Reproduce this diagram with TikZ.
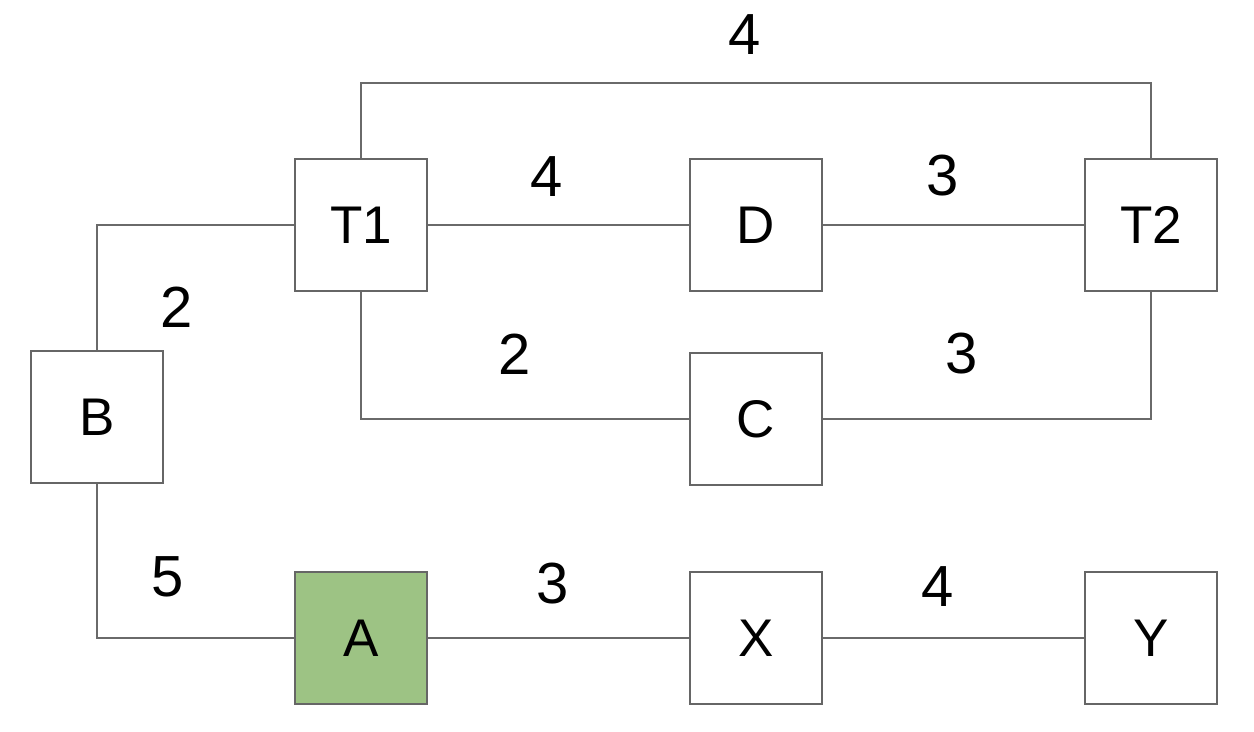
\documentclass[tikz,border=0pt]{standalone}
\usepackage{fontspec}
\setmainfont{Liberation Sans}
\definecolor{boxgray}{HTML}{666666}
\definecolor{linegray}{HTML}{6A6A6A}
\definecolor{agreen}{HTML}{9DC384}
\begin{document}
\begin{tikzpicture}[x=0.5pt,y=-0.5pt,
  box/.style={draw=boxgray,line width=1.35pt,fill=white,minimum width=66pt,minimum height=66pt,inner sep=0pt,font=\fontsize{26.5}{30}\selectfont},
  wire/.style={draw=linegray,line width=1.1pt},
  lab/.style={font=\fontsize{29}{33}\selectfont,inner sep=0pt}]
\useasboundingbox (0,0) rectangle (1254,732);
\coordinate (tp) at (745,83);
\node[box] (T1) at (361,225) {T1};
\node[box] (D) at (756,225) {D};
\node[box] (T2) at (1151,225) {T2};
\node[box] (B) at (97,417) {B};
\node[box] (C) at (756,419) {C};
\node[box,fill=agreen] (A) at (361,638) {A};
\node[box] (X) at (756,638) {X};
\node[box] (Y) at (1151,638) {Y};
\draw[wire] (T1.north) |- (tp) -| (T2.north);
\draw[wire] (T1.east) -- (D.west);
\draw[wire] (D.east) -- (T2.west);
\draw[wire] (B.north) |- (T1.west);
\draw[wire] (T1.south) |- (C.west);
\draw[wire] (C.east) -| (T2.south);
\draw[wire] (B.south) |- (A.west);
\draw[wire] (A.east) -- (X.west);
\draw[wire] (X.east) -- (Y.west);
\node[lab] (l1) at (745,35) {4};
\node[lab] (l2) at (547,177) {4};
\node[lab] (l3) at (943,176) {3};
\node[lab] (l4) at (177,307) {2};
\node[lab] (l5) at (515,354) {2};
\node[lab] (l6) at (962,354) {3};
\node[lab] (l7) at (168,577) {5};
\node[lab] (l8) at (553,584) {3};
\node[lab] (l9) at (938,587) {4};
\end{tikzpicture}
\end{document}
